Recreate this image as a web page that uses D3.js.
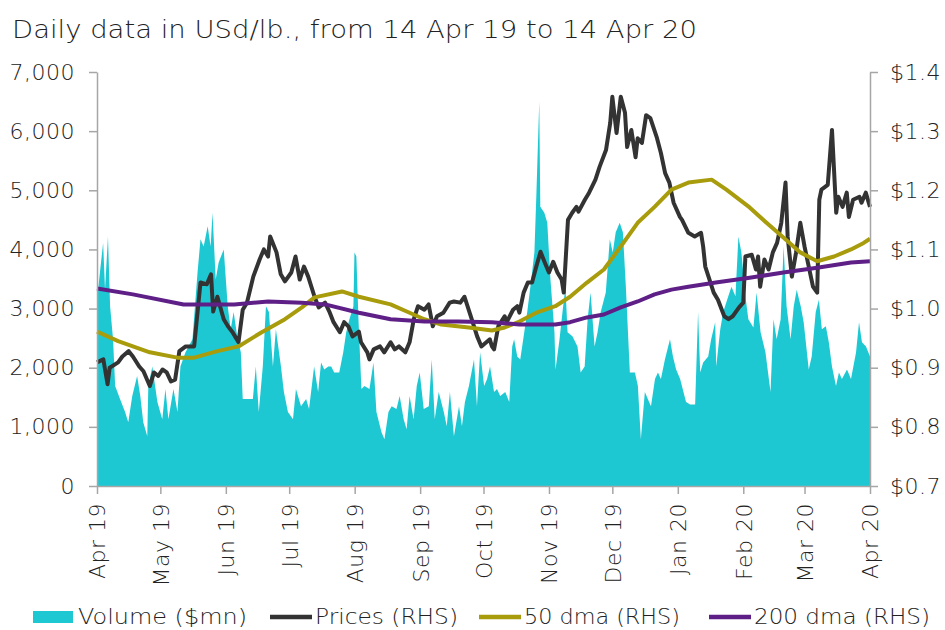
<!DOCTYPE html>
<html>
<head>
<meta charset="utf-8">
<script src="https://cdn.jsdelivr.net/npm/d3@7"></script>
<style>
  body { margin: 0; background: #fff; }
  svg { display: block; }
  text { font-family: "DejaVu Sans", sans-serif; font-weight: 200; fill: #222; }
</style>
</head>
<body>
<script>
// days counted from 14 Apr 2019
const volume = [
  [0,3540],[0.5,3320],[2.9,4110],[3.8,3320],[5.2,4220],[6.2,3040],[7.6,2480],[8.6,1690],[10.9,1470],[13.3,1250],
  [14.8,1080],[16.7,1520],[19.0,1860],[20.5,1520],[21.9,1080],[23.8,840],[24.3,1690],[26.2,2020],[28.6,1420],[30.9,1130],
  [32.4,1640],[33.8,1130],[36.2,1640],[38.1,1250],[39.5,2020],[41.9,2260],[45.2,2480],[47.6,3610],[49.0,4170],[50.5,4050],
  [52.4,4390],[53.8,4050],[54.7,4620],[56.2,3490],[57.6,3780],[60.0,4000],[61.9,3040],[63.3,2650],[64.7,2940],[66.6,2480],
  [68.1,2260],[69.0,1470],[73.8,1470],[75.2,2020],[76.6,1250],[78.5,2020],[80.0,3040],[81.4,2940],[83.3,2020],[84.7,2650],
  [87.1,2020],[88.5,1590],[90.4,1250],[92.8,1130],[94.2,1640],[96.6,1350],[99.0,1470],[100.4,1300],[102.8,2020],[104.7,1590],
  [106.1,2090],[107.6,1970],[109.5,2020],[110.9,2020],[112.3,1920],[114.7,1920],[116.6,2260],[118.0,2600],[119.5,2820],[121.4,3040],
  [121.9,3950],[122.8,3880],[123.8,2820],[125.2,1640],[126.6,1690],[129.0,1640],[130.9,2090],[132.3,1250],[134.7,910],[136.1,790],
  [138.0,1250],[139.5,1350],[141.8,1300],[143.3,1520],[145.2,1130],[146.6,960],[148.0,1520],[149.9,1130],[151.4,1690],[152.8,1920],
  [154.7,1300],[157.1,1350],[158.5,2140],[159.9,1130],[161.8,1590],[164.2,1250],[165.6,1010],[167.1,1590],[169.0,840],[171.4,1350],
  [172.8,1010],[174.2,1420],[176.1,1690],[178.5,2140],[179.9,1350],[181.4,2260],[183.3,1690],[184.7,1810],[186.1,2020],[188.0,1590],
  [189.4,1640],[190.9,1520],[193.3,1590],[195.2,1420],[196.6,2360],[197.5,2480],[199.0,2190],[200.4,2140],[202.3,2600],[203.7,2940],
  [205.2,3370],[207.1,3950],[208.0,4890],[209.4,6500],[209.9,4720],[211.8,4620],[213.2,4450],[214.7,3490],[216.6,2600],[217.1,1970],
  [219.0,2480],[220.4,2940],[221.8,3370],[222.8,2600],[225.1,2530],[227.5,2360],[229.0,1920],[230.9,2020],[232.3,2820],[233.7,3270],
  [235.6,2360],[237.0,2600],[238.5,2940],[240.9,3270],[242.8,4170],[244.2,3950],[245.6,4290],[247.5,4450],[249.0,4290],[250.4,3370],
  [252.3,1920],[254.7,1920],[256.1,1690],[257.5,790],[259.4,1590],[260.8,1470],[262.3,1350],[264.2,1810],[265.6,1920],[267.0,1810],
  [268.9,2140],[271.3,2480],[272.7,2190],[274.2,1970],[276.1,1810],[278.9,1420],[280.8,1380],[283.2,1380],[284.6,2940],[285.6,1920],
  [287.0,2090],[289.4,2190],[290.8,2480],[292.7,2770],[293.2,2020],[295.1,2650],[296.5,2940],[298.9,3210],[300.4,3370],[302.3,3210],
  [303.7,4220],[305.1,3950],[307.0,3210],[308.4,2820],[310.8,2680],[312.3,3270],[314.2,2600],[316.5,2260],[318.9,1590],[320.3,2820],
  [321.8,2480],[323.7,2820],[325.1,4050],[326.5,3040],[328.4,2480],[329.9,3040],[331.3,3320],[333.2,3040],[334.6,2770],[337.0,1970],
  [338.4,2190],[340.3,2940],[341.8,3150],[343.2,2650],[345.1,2700],[346.5,2430],[348.0,2020],[349.9,1690],[351.3,1920],[352.7,1810],
  [355.1,1970],[357.0,1810],[359.4,2260],[360.8,2770],[362.2,2430],[364.1,2360],[366.0,2190]
];

const prices = [
  [0,0.909],[3,0.914],[5,0.872],[6,0.900],[10,0.909],[12,0.919],[15,0.928],[17,0.919],[20,0.902],[22,0.894],
  [25,0.869],[27,0.892],[29,0.886],[31,0.897],[33,0.892],[35,0.877],[37,0.880],[39,0.928],[42,0.936],[46,0.936],
  [49,1.044],[52,1.041],[54,1.058],[55,0.995],[57,1.020],[60,0.982],[62,0.970],[64,0.961],[67,0.943],[69,0.998],
  [71,1.010],[74,1.054],[77,1.083],[79,1.100],[81,1.088],[82,1.122],[85,1.095],[87,1.058],[89,1.046],[92,1.061],
  [94,1.088],[96,1.049],[98,1.071],[100,1.054],[103,1.020],[105,1.002],[108,1.010],[110,0.995],[112,0.977],[115,0.960],
  [117,0.977],[119,0.970],[121,0.953],[124,0.961],[125,0.943],[128,0.926],[129,0.914],[131,0.931],[134,0.936],[136,0.926],
  [139,0.943],[141,0.931],[143,0.936],[146,0.926],[148,0.943],[150,0.982],[152,1.004],[155,0.998],[157,1.007],[159,0.970],
  [161,0.987],[164,0.993],[167,1.010],[169,1.012],[172,1.010],[174,1.020],[177,0.987],[180,0.953],[182,0.936],[186,0.948],
  [187,0.936],[188,0.931],[190,0.970],[193,0.987],[194,0.977],[197,0.998],[199,1.004],[200,0.993],[202,1.027],[204,1.044],
  [206,1.044],[208,1.071],[210,1.096],[212,1.078],[214,1.061],[216,1.079],[218,1.061],[220,1.049],[221,1.027],[223,1.150],
  [225,1.162],[227,1.172],[228,1.164],[231,1.184],[233,1.196],[236,1.218],[237,1.229],[238,1.240],[241,1.268],[243,1.314],
  [244,1.358],[246,1.297],[248,1.358],[250,1.331],[251,1.273],[253,1.302],[255,1.256],[256,1.288],[258,1.280],[260,1.327],
  [262,1.322],[265,1.290],[267,1.263],[269,1.229],[271,1.213],[273,1.179],[276,1.155],[277,1.150],[280,1.128],[283,1.122],
  [286,1.128],[287,1.105],[288,1.071],[292,1.027],[294,1.015],[297,0.987],[299,0.982],[301,0.987],[304,1.002],[306,1.010],
  [307,1.088],[310,1.091],[312,1.066],[313,1.088],[314,1.037],[316,1.083],[318,1.066],[320,1.095],[322,1.111],[324,1.145],
  [326,1.213],[327,1.122],[329,1.054],[331,1.095],[333,1.145],[335,1.105],[337,1.071],[339,1.037],[341,1.027],[342,1.184],
  [343,1.201],[346,1.209],[348,1.302],[350,1.162],[351,1.189],[353,1.172],[355,1.196],[356,1.155],[358,1.184],[361,1.189],
  [362,1.179],[364,1.196],[366,1.172]
];

const dma50 = [
  [0,0.961],[10,0.945],[25,0.926],[38,0.917],[46,0.917],[57,0.928],[67,0.936],[78,0.960],[89,0.982],[97,1.002],
  [103,1.019],[116,1.029],[124,1.020],[139,1.007],[148,0.993],[155,0.982],[163,0.973],[176,0.968],[187,0.963],[193,0.968],
  [200,0.978],[208,0.993],[217,1.004],[224,1.020],[232,1.044],[240,1.066],[248,1.105],[256,1.145],[264,1.172],[272,1.201],
  [280,1.213],[291,1.218],[298,1.201],[309,1.171],[317,1.145],[325,1.120],[333,1.095],[341,1.080],[349,1.088],[357,1.100],
  [363,1.111],[366,1.118]
];

const dma200 = [
  [0,1.034],[17,1.024],[41,1.007],[65,1.007],[81,1.012],[97,1.010],[108,1.007],[124,0.993],[139,0.982],[155,0.978],
  [171,0.978],[187,0.977],[200,0.973],[217,0.973],[224,0.977],[232,0.985],[240,0.990],[248,1.002],[256,1.012],[264,1.024],
  [272,1.032],[280,1.037],[293,1.044],[309,1.052],[325,1.061],[341,1.069],[357,1.078],[366,1.080]
];

const volTicks = [0, 1000, 2000, 3000, 4000, 5000, 6000, 7000];
const priceTicks = [0.7, 0.8, 0.9, 1.0, 1.1, 1.2, 1.3, 1.4];
const monthTicks = d3.range(13).map(i => new Date(2019, 3 + i, 14));

const legendItems = [
  {label: "Volume ($mn)", type: "rect", color: "#1ec8d3"},
  {label: "Prices (RHS)", type: "line", color: "#333333"},
  {label: "50 dma (RHS)", type: "line", color: "#a89c0c"},
  {label: "200 dma (RHS)", type: "line", color: "#5e1f87"}
];

const width = 945, height = 630;
const margin = {left: 97, right: 870, top: 72, bottom: 486};
const start = new Date(2019, 3, 14), end = new Date(2020, 3, 14);
const toDate = d => new Date(start.getTime() + d * 864e5);

const svg = d3.select("body").append("svg")
  .attr("width", width)
  .attr("height", height);

const x = d3.scaleTime().domain([start, end]).range([margin.left, margin.right]);
const yVol = d3.scaleLinear().domain([0, 7000]).range([margin.bottom, margin.top]);
const yPx = d3.scaleLinear().domain([0.7, 1.4]).range([margin.bottom, margin.top]);

// title
svg.append("text")
  .attr("x", 12)
  .attr("y", 38)
  .attr("textLength", 685)
  .attr("lengthAdjust", "spacingAndGlyphs")
  .style("font-size", "25px")
  .text("Daily data in USd/lb., from 14 Apr 19 to 14 Apr 20");

// volume area
const area = d3.area()
  .x(d => x(toDate(d[0])))
  .y0(yVol(0))
  .y1(d => yVol(d[1]));

svg.append("path")
  .datum(volume)
  .attr("d", area)
  .style("fill", "#1ec8d3");

// lines on the right hand scale
const line = d3.line()
  .x(d => x(toDate(d[0])))
  .y(d => yPx(d[1]));

[[prices, "#333333"], [dma50, "#a89c0c"], [dma200, "#5e1f87"]].forEach(s => {
  svg.append("path")
    .datum(s[0])
    .attr("d", line)
    .style("fill", "none")
    .style("stroke", s[1])
    .style("stroke-width", 4)
    .style("stroke-linejoin", "round");
});

// axes
function styleAxis(g) {
  g.attr("font-family", null).attr("font-size", null);
  g.select(".domain").style("stroke", "#a6a6a6").style("stroke-width", 1.5);
  g.selectAll(".tick line").style("stroke", "#a6a6a6").style("stroke-width", 1.5);
  g.selectAll(".tick text").style("font-size", "22px").style("letter-spacing", "0.5px").style("fill", "#222");
}

svg.append("g")
  .attr("transform", `translate(${margin.left},0)`)
  .call(d3.axisLeft(yVol).tickValues(volTicks).tickFormat(d3.format(",")).tickSize(8).tickSizeOuter(0).tickPadding(14))
  .call(styleAxis);

svg.append("g")
  .attr("transform", `translate(${margin.right},0)`)
  .call(d3.axisRight(yPx).tickValues(priceTicks).tickFormat(d => "$" + d3.format(".1f")(d)).tickSize(8).tickSizeOuter(0).tickPadding(12))
  .call(styleAxis);

const xAxis = svg.append("g")
  .attr("transform", `translate(0,${margin.bottom})`)
  .call(d3.axisBottom(x).tickValues(monthTicks).tickFormat(d3.timeFormat("%b %y")).tickSize(8).tickSizeOuter(0))
  .call(styleAxis);

xAxis.selectAll(".tick text")
  .attr("transform", "rotate(-90)")
  .attr("text-anchor", "end")
  .attr("x", -17)
  .attr("y", 0)
  .attr("dy", "0.36em");

// legend
const legendX = [33, 270, 479, 709];
const legendW = [169, 143, 156, 176];
const lg = svg.append("g");
legendItems.forEach((item, i) => {
  const g = lg.append("g").attr("transform", `translate(${legendX[i]},0)`);
  if (item.type === "rect") {
    g.append("rect").attr("x", 0).attr("y", 611).attr("width", 40).attr("height", 12).style("fill", item.color);
  } else {
    g.append("line").attr("x1", 0).attr("x2", 42).attr("y1", 617).attr("y2", 617)
      .style("stroke", item.color).style("stroke-width", 4.5);
  }
  g.append("text")
    .attr("x", 45)
    .attr("y", 624)
    .attr("textLength", legendW[i])
    .attr("lengthAdjust", "spacingAndGlyphs")
    .style("font-size", "22px")
    .text(item.label);
});
</script>
</body>
</html>
